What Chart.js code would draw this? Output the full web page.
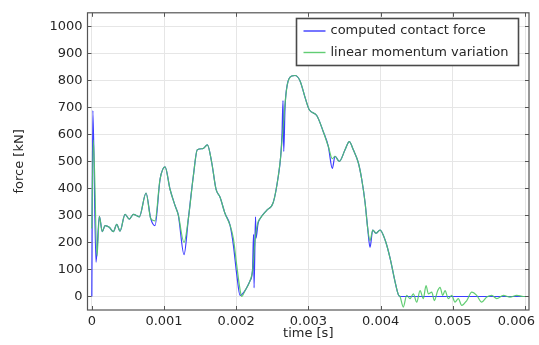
<!DOCTYPE html>
<html>
<head>
<meta charset="utf-8">
<script src="https://cdn.jsdelivr.net/npm/chart.js@4.4.1/dist/chart.umd.min.js"></script>
<style>
  html, body { margin: 0; padding: 0; background: #fff; }
</style>
</head>
<body>
<canvas id="impact" width="539" height="345"></canvas>
<script>
// contact force from the solver (time in ms, force in kN)
const forceTimeMs = [
  0, 0.014, 0.058, 0.104, 0.145, 0.183, 0.242, 0.298, 0.345, 0.391,
  0.460, 0.519, 0.575, 0.658, 0.751, 0.816, 0.875, 0.945, 1.014, 1.083,
  1.152, 1.198, 1.277, 1.337, 1.406, 1.461, 1.536, 1.600, 1.661, 1.720,
  1.776, 1.845, 1.914, 1.960, 2.007, 2.053, 2.122, 2.191, 2.226, 2.240,
  2.247, 2.267, 2.274, 2.302, 2.330, 2.422, 2.514, 2.583, 2.616, 2.634,
  2.648, 2.658, 2.676, 2.708, 2.769, 2.814, 2.884, 2.953, 3.012, 3.115,
  3.206, 3.276, 3.331, 3.368, 3.428, 3.507, 3.566, 3.622, 3.691, 3.738,
  3.784, 3.821, 3.853, 3.891, 3.936, 3.992, 4.061, 4.130, 4.197, 4.245,
  4.269, 6.060
];
const forceKN = [
  0, 688, 127, 297, 240, 262, 256, 240, 267, 242,
  304, 286, 304, 295, 383, 288, 262, 434, 480, 397,
  337, 301, 155, 288, 446, 543, 547, 561, 495, 397,
  367, 307, 264, 191, 82, 4, 22, 58, 100, 230,
  32, 295, 216, 270, 288, 319, 349, 446, 519, 600,
  725, 537, 700, 785, 816, 818, 798, 737, 691, 670,
  610, 555, 474, 519, 500, 543, 573, 543, 495, 434,
  349, 252, 182, 246, 234, 246, 210, 143, 58, 7,
  0, 0
];

// force recovered from the change of linear momentum
const momentumTimeMs = [
  0, 0.021, 0.072, 0.104, 0.145, 0.183, 0.242, 0.298, 0.345, 0.391,
  0.460, 0.519, 0.575, 0.658, 0.751, 0.816, 0.875, 0.945, 1.014, 1.083,
  1.152, 1.198, 1.277, 1.337, 1.406, 1.461, 1.536, 1.600, 1.661, 1.720,
  1.776, 1.845, 1.914, 1.960, 2.007, 2.053, 2.076, 2.122, 2.191, 2.226,
  2.267, 2.302, 2.330, 2.422, 2.514, 2.583, 2.616, 2.634, 2.658, 2.676,
  2.708, 2.769, 2.814, 2.884, 2.953, 3.012, 3.115, 3.206, 3.276, 3.331,
  3.368, 3.428, 3.507, 3.566, 3.622, 3.691, 3.738, 3.784, 3.821, 3.853,
  3.891, 3.936, 3.992, 4.061, 4.130, 4.197, 4.245, 4.269, 4.314, 4.361,
  4.407, 4.453, 4.500, 4.546, 4.591, 4.629, 4.661, 4.708, 4.744, 4.791,
  4.823, 4.860, 4.892, 4.938, 4.985, 5.030, 5.076, 5.123, 5.193, 5.262,
  5.331, 5.400, 5.470, 5.539, 5.608, 5.700, 5.792, 5.885, 5.977, 6.042
];
const momentumKN = [
  252, 580, 150, 297, 240, 262, 256, 240, 267, 242,
  304, 286, 304, 295, 383, 288, 280, 434, 480, 397,
  337, 301, 200, 288, 446, 543, 547, 561, 495, 397,
  367, 307, 264, 215, 115, 25, 0, 22, 58, 95,
  226, 275, 288, 319, 349, 446, 519, 580, 650, 713,
  785, 816, 818, 798, 737, 691, 670, 610, 555, 510,
  519, 500, 543, 573, 543, 495, 434, 349, 252, 207,
  246, 234, 246, 210, 143, 58, 7, 0, -39, 4,
  -8, 10, -21, 22, -8, 40, 10, 16, -15, 22,
  34, 4, 22, -8, 4, -21, -8, -33, -15, 16,
  4, -21, -2, 4, -8, 4, -2, 4, 0, 0
];

const xTickValues = [0, 0.001, 0.002, 0.003, 0.004, 0.005, 0.006];
const yTickValues = [0, 100, 200, 300, 400, 500, 600, 700, 800, 900, 1000];

const FONT = "'DejaVu Sans', sans-serif";
const TEXT = '#262626';
const FRAME = '#555555';

const toPoints = (times, values) => times.map((t, i) => ({ x: t / 1000, y: values[i] }));

// frame with inward ticks, x labels (last one kept inside the canvas) and legend box
const framePlugin = {
  id: 'frame',
  afterDraw(chart) {
    const { ctx, chartArea: { left, right, top, bottom }, scales: { x, y } } = chart;
    ctx.save();
    ctx.strokeStyle = FRAME;
    ctx.lineWidth = 1;
    ctx.beginPath();
    yTickValues.forEach((v) => {
      const py = Math.round(y.getPixelForValue(v)) + 0.5;
      ctx.moveTo(left, py); ctx.lineTo(left + 4, py);
      ctx.moveTo(right, py); ctx.lineTo(right - 4, py);
    });
    xTickValues.forEach((v) => {
      const px = Math.round(x.getPixelForValue(v)) + 0.5;
      ctx.moveTo(px, bottom); ctx.lineTo(px, bottom - 4);
      ctx.moveTo(px, top); ctx.lineTo(px, top + 4);
    });
    ctx.stroke();
    ctx.lineWidth = 1.2;
    ctx.strokeRect(left, top, right - left, bottom - top);

    ctx.font = '13px ' + FONT;
    ctx.fillStyle = TEXT;
    ctx.textBaseline = 'middle';
    ctx.textAlign = 'left';
    xTickValues.forEach((v) => {
      const label = v === 0 ? '0' : v.toFixed(3);
      const w = ctx.measureText(label).width;
      let lx = x.getPixelForValue(v) - w / 2;
      if (lx + w > chart.width - 4) lx = chart.width - 4 - w;
      ctx.fillText(label, lx, bottom + 12);
    });

    // legend
    const bx = 296.5, by = 18.5, bw = 222, bh = 47;
    ctx.fillStyle = '#ffffff';
    ctx.fillRect(bx, by, bw, bh);
    ctx.strokeStyle = '#4a4a4a';
    ctx.lineWidth = 1.6;
    ctx.strokeRect(bx, by, bw, bh);
    chart.data.datasets.forEach((ds, i) => {
      const ly = by + 12.5 + i * 21.5;
      ctx.strokeStyle = ds.borderColor;
      ctx.lineWidth = 1.4;
      ctx.beginPath();
      ctx.moveTo(bx + 7, ly); ctx.lineTo(bx + 29, ly);
      ctx.stroke();
      ctx.fillStyle = TEXT;
      ctx.fillText(ds.label, bx + 34, ly);
    });
    ctx.restore();
  },
};

new Chart(document.getElementById('impact'), {
  type: 'line',
  data: {
    datasets: [
      {
        label: 'computed contact force',
        data: toPoints(forceTimeMs, forceKN),
        borderColor: 'rgb(60, 60, 255)',
        order: 1,
      },
      {
        label: 'linear momentum variation',
        data: toPoints(momentumTimeMs, momentumKN),
        borderColor: 'rgba(80, 200, 100, 0.9)',
        order: 0,
      },
    ],
  },
  options: {
    responsive: false,
    animation: false,
    layout: { padding: { top: 7, right: 10, left: 0, bottom: 0 } },
    plugins: { legend: { display: false }, tooltip: { enabled: false } },
    elements: {
      point: { radius: 0 },
      line: { borderWidth: 1.2, cubicInterpolationMode: 'monotone' },
    },
    scales: {
      x: {
        type: 'linear',
        min: -0.00006,
        max: 0.006055,
        afterBuildTicks: (s) => { s.ticks = xTickValues.map((v) => ({ value: v })); },
        afterFit: (s) => { s.height = 35; s.paddingLeft = 0; s.paddingRight = 0; },
        ticks: { display: false },
        grid: { color: '#e6e6e6', drawTicks: false },
        border: { display: false },
        title: {
          display: true,
          text: 'time [s]',
          color: TEXT,
          font: { family: FONT, size: 13 },
          padding: { top: 0, bottom: 4 },
        },
      },
      y: {
        min: -50,
        max: 1050,
        afterBuildTicks: (s) => { s.ticks = yTickValues.map((v) => ({ value: v })); },
        afterFit: (s) => { s.width = 87.5; },
        ticks: {
          padding: 5,
          color: TEXT,
          font: { family: FONT, size: 13 },
          callback: (v) => String(v),
        },
        grid: { color: '#e6e6e6', drawTicks: false },
        border: { display: false },
        title: {
          display: true,
          text: 'force [kN]',
          color: TEXT,
          font: { family: FONT, size: 13 },
          padding: { top: 12, bottom: 0 },
        },
      },
    },
  },
  plugins: [framePlugin],
});
</script>
</body>
</html>
